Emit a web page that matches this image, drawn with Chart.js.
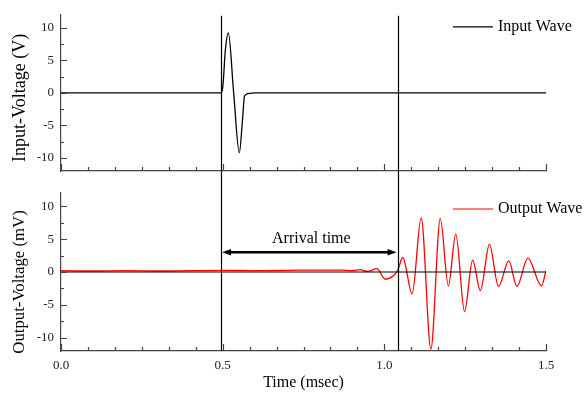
<!DOCTYPE html>
<html>
<head>
<meta charset="utf-8">
<script src="https://cdn.jsdelivr.net/npm/chart.js@4.4.0/dist/chart.umd.min.js"></script>
<style>
  html, body { margin: 0; padding: 0; background: #fff; }
  #wrap { position: relative; width: 584px; height: 397px; }
  #wrap canvas { position: absolute; left: 0; top: 0; }
</style>
</head>
<body>
<div id="wrap">
  <canvas id="input-chart" width="584" height="397"></canvas>
  <canvas id="output-chart" width="584" height="397"></canvas>
</div>
<script>
// ---- data ----
const TIME_IN  = [0, 0.2, 0.4, 0.495, 0.501, 0.508, 0.5175, 0.534, 0.5515, 0.561, 0.5675, 0.578, 0.6, 0.8, 1.0, 1.2, 1.5];
const INPUT_V  = [0, 0,   0,   0,     1.2,   6.4,   9.2,    0,     -9.2,   -4.4,  -0.5,   -0.1,  0,   0,   0,   0,   0];

const TIME_OUT  = [0, 0.1, 0.2, 0.3, 0.4, 0.5, 0.6, 0.7, 0.8, 0.87, 0.9, 0.926, 0.947, 0.977, 1.003, 1.041,
                   1.057, 1.086, 1.114, 1.144, 1.173, 1.198, 1.221, 1.248, 1.273, 1.297, 1.325, 1.353, 1.385, 1.410, 1.444, 1.486, 1.5];
const OUTPUT_MV = [0.2, 0.15, 0.2, 0.15, 0.2, 0.25, 0.2, 0.25, 0.3, 0.3, 0.2, 0.35, 0.1, 0.5, -1.1, 0.2,
                   2.2, -3.3, 8.2, -11.7, 8.1, -2.1, 5.8, -6.0, 1.8, -2.8, 4.2, -2.2, 1.7, -2.2, 2.1, -2.1, 0.2];

const BASE_T = [0, 1.5];
const BASE_V = [0, 0];

const X_TICKS = [0, 0.5, 1.0, 1.5];
const Y_TICKS = [-10, -5, 0, 5, 10];
const MARKERS = [0.495, 1.041];   // vertical marker lines (msec)
const ARROW_Y = 3;                // level of the "Arrival time" arrow (mV)

// ---- styles ----
const FONT = "'Liberation Serif', 'Times New Roman', serif";
const AXIS_COLOR = '#444';

function toPoints(xs, ys) {
    return xs.map((x, i) => ({ x: x, y: ys[i] }));
}

// inward tick marks, major + minor
const axisTicks = {
    id: 'axisTicks',
    afterDraw(chart) {
        const { ctx, chartArea: a, scales: { x, y } } = chart;
        ctx.save();
        ctx.strokeStyle = AXIS_COLOR;
        ctx.lineWidth = 1.2;
        ctx.beginPath();
        for (let i = 0; i <= 18; i++) {
            const px = Math.round(x.getPixelForValue(i * 1.5 / 18)) + 0.5;
            const len = i % 6 === 0 ? 7 : 4;
            ctx.moveTo(px, a.bottom);
            ctx.lineTo(px, a.bottom - len);
        }
        for (let i = -4; i <= 4; i++) {
            const py = Math.round(y.getPixelForValue(i * 2.5)) + 0.5;
            const len = i % 2 === 0 ? 6 : 3;
            ctx.moveTo(a.left, py);
            ctx.lineTo(a.left + len, py);
        }
        ctx.stroke();
        ctx.restore();
    }
};

// legend drawn as a short line + label at the top right, plus the rotated y title
const panelText = {
    id: 'panelText',
    afterDraw(chart, args, opts) {
        const { ctx, chartArea: a } = chart;
        const yy = a.top + opts.offsetY;
        ctx.save();
        ctx.strokeStyle = opts.color;
        ctx.lineWidth = 1.2;
        ctx.beginPath();
        ctx.moveTo(a.right - 93, yy);
        ctx.lineTo(a.right - 53, yy);
        ctx.stroke();
        ctx.fillStyle = '#000';
        ctx.font = '16px ' + FONT;
        ctx.textAlign = 'left';
        ctx.textBaseline = 'middle';
        ctx.fillText(opts.text, a.right - 48, yy);

        // y axis title
        ctx.translate(20, (a.top + a.bottom) / 2 + opts.titleShift);
        ctx.rotate(-Math.PI / 2);
        ctx.font = opts.titleSize + 'px ' + FONT;
        ctx.textAlign = 'center';
        ctx.fillText(opts.title, 0, 0);
        ctx.restore();
    }
};

function scalesFor(showX) {
    return {
        x: {
            type: 'linear',
            min: 0,
            max: 1.5,
            afterBuildTicks: (s) => { s.ticks = X_TICKS.map(v => ({ value: v })); },
            afterFit: showX ? (s) => { s.height = 46; } : (s) => { s.height = 0; },
            grid: { display: false, drawTicks: false },
            border: { display: true, color: AXIS_COLOR, width: 1.2 },
            ticks: {
                display: showX,
                padding: 7,
                maxRotation: 0,
                color: '#222',
                font: { family: FONT, size: 13 },
                callback: (v) => v.toFixed(1)
            },
            title: {
                display: showX,
                text: 'Time (msec)',
                color: '#000',
                font: { family: FONT, size: 16 },
                padding: { top: 0, bottom: 5 }
            }
        },
        y: {
            type: 'linear',
            min: -12,
            max: 12,
            afterBuildTicks: (s) => { s.ticks = Y_TICKS.map(v => ({ value: v })); },
            afterFit: (s) => { s.width = 61; },
            grid: { display: false, drawTicks: false },
            border: { display: true, color: AXIS_COLOR, width: 1.2 },
            ticks: {
                padding: 7,
                color: '#222',
                font: { family: FONT, size: 13 }
            }
        }
    };
}

// ---- top panel: input wave ----
const inputChart = new Chart(document.getElementById('input-chart'), {
    type: 'line',
    data: {
        datasets: [{
            data: toPoints(TIME_IN, INPUT_V),
            borderColor: '#000',
            borderWidth: 1.3,
            pointRadius: 0,
            cubicInterpolationMode: 'monotone'
        }]
    },
    options: {
        responsive: false,
        animation: false,
        layout: { padding: { top: 13, right: 38, bottom: 226, left: 0 } },
        plugins: {
            legend: { display: false },
            tooltip: { enabled: false },
            panelText: { text: 'Input Wave', color: '#000', offsetY: 12,
                         title: 'Input-Voltage (V)', titleSize: 18, titleShift: 5 }
        },
        scales: scalesFor(false)
    },
    plugins: [axisTicks, panelText]
});

// marker lines across both panels + arrival arrow
const markers = {
    id: 'markers',
    afterDraw(chart) {
        const { ctx, chartArea: a, scales: { x, y } } = chart;
        const top = inputChart.chartArea.top + 1;
        ctx.save();
        ctx.strokeStyle = '#000';
        ctx.lineWidth = 1.2;
        ctx.beginPath();
        MARKERS.forEach(m => {
            const px = Math.round(x.getPixelForValue(m)) + 0.5;
            ctx.moveTo(px, top);
            ctx.lineTo(px, a.bottom);
        });
        ctx.stroke();

        const x0 = x.getPixelForValue(MARKERS[0]);
        const x1 = x.getPixelForValue(MARKERS[1]);
        const ay = y.getPixelForValue(ARROW_Y);
        ctx.lineWidth = 2.6;
        ctx.beginPath();
        ctx.moveTo(x0 + 6, ay);
        ctx.lineTo(x1 - 6, ay);
        ctx.stroke();
        ctx.fillStyle = '#000';
        ctx.beginPath();
        ctx.moveTo(x0 + 1, ay);
        ctx.lineTo(x0 + 10, ay - 3.2);
        ctx.lineTo(x0 + 10, ay + 3.2);
        ctx.closePath();
        ctx.moveTo(x1 - 1, ay);
        ctx.lineTo(x1 - 10, ay - 3.2);
        ctx.lineTo(x1 - 10, ay + 3.2);
        ctx.closePath();
        ctx.fill();

        ctx.font = '16px ' + FONT;
        ctx.textAlign = 'center';
        ctx.textBaseline = 'middle';
        ctx.fillText('Arrival time', (x0 + x1) / 2 + 2, ay - 13);
        ctx.restore();
    }
};

// ---- bottom panel: output wave ----
const outputChart = new Chart(document.getElementById('output-chart'), {
    type: 'line',
    data: {
        datasets: [
            {
                data: toPoints(BASE_T, BASE_V),
                borderColor: '#000',
                borderWidth: 1.2,
                pointRadius: 0
            },
            {
                data: toPoints(TIME_OUT, OUTPUT_MV),
                borderColor: '#ff0000',
                borderWidth: 1.3,
                pointRadius: 0,
                cubicInterpolationMode: 'monotone'
            }
        ]
    },
    options: {
        responsive: false,
        animation: false,
        layout: { padding: { top: 193, right: 38, bottom: 0, left: 0 } },
        plugins: {
            legend: { display: false },
            tooltip: { enabled: false },
            panelText: { text: 'Output Wave', color: '#ff0000', offsetY: 16,
                         title: 'Output-Voltage (mV)', titleSize: 16.75, titleShift: 10 }
        },
        scales: scalesFor(true)
    },
    plugins: [axisTicks, panelText, markers]
});
</script>
</body>
</html>
